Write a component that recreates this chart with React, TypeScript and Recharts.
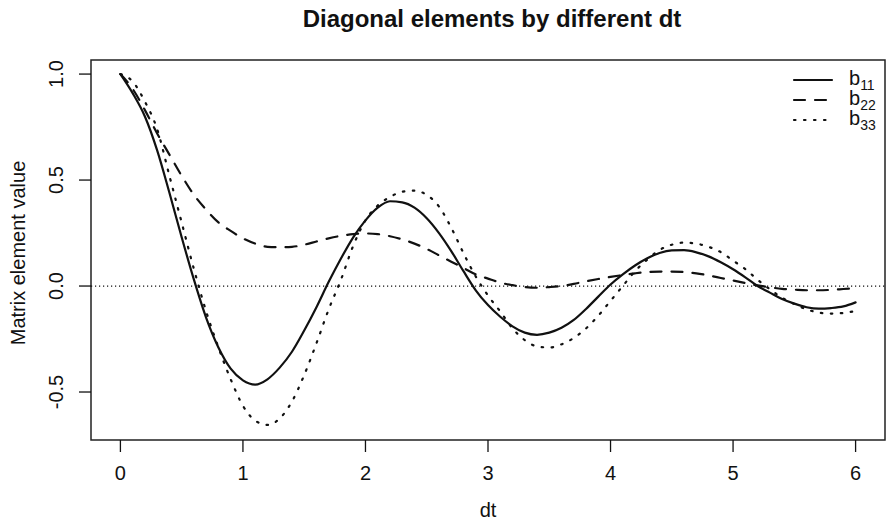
import { LineChart, Line, XAxis, YAxis, ReferenceLine, ReferenceArea, Legend } from "recharts";

const dt = [
  0, 0.1, 0.2, 0.3, 0.4, 0.5, 0.6, 0.7, 0.8, 0.9,
  1, 1.1, 1.2, 1.3, 1.4, 1.5, 1.6, 1.7, 1.8, 1.9,
  2, 2.1, 2.2, 2.3, 2.4, 2.5, 2.6, 2.7, 2.8, 2.9,
  3, 3.1, 3.2, 3.3, 3.4, 3.5, 3.6, 3.7, 3.8, 3.9,
  4, 4.1, 4.2, 4.3, 4.4, 4.5, 4.6, 4.7, 4.8, 4.9,
  5, 5.1, 5.2, 5.3, 5.4, 5.5, 5.6, 5.7, 5.8, 5.9, 6,
];

const b11 = [
  1.0, 0.91, 0.8, 0.64, 0.44, 0.23, 0.03, -0.15, -0.29, -0.39,
  -0.445, -0.465, -0.44, -0.385, -0.31, -0.21, -0.1, 0.02, 0.13, 0.23,
  0.31, 0.37, 0.4, 0.395, 0.37, 0.32, 0.25, 0.165, 0.07, -0.02,
  -0.09, -0.145, -0.19, -0.22, -0.23, -0.22, -0.197, -0.16, -0.108, -0.05,
  0.007, 0.055, 0.097, 0.131, 0.156, 0.168, 0.169, 0.159, 0.14, 0.112,
  0.079, 0.041, 0.0, -0.031, -0.061, -0.083, -0.1, -0.107, -0.104, -0.096, -0.077,
];

const b22 = [
  1.0, 0.93, 0.83, 0.72, 0.62, 0.52, 0.43, 0.36, 0.3, 0.26,
  0.225, 0.2, 0.185, 0.183, 0.185, 0.195, 0.21, 0.225, 0.237, 0.245,
  0.248, 0.245, 0.235, 0.22, 0.2, 0.175, 0.145, 0.115, 0.085, 0.055,
  0.035, 0.016, 0.004, -0.005, -0.008, -0.005, 0.0, 0.01, 0.022, 0.033,
  0.043, 0.052, 0.06, 0.066, 0.068, 0.068, 0.066, 0.06, 0.05, 0.038,
  0.026, 0.014, 0.003, -0.006, -0.013, -0.017, -0.02, -0.02, -0.018, -0.014, -0.01,
];

const b33 = [
  1.0, 0.965, 0.87, 0.74, 0.52, 0.3, 0.08, -0.12, -0.29, -0.44,
  -0.565, -0.635, -0.655, -0.625, -0.545, -0.42, -0.27, -0.11, 0.03, 0.19,
  0.31, 0.38, 0.42, 0.445, 0.45, 0.43, 0.375, 0.275, 0.155, 0.045,
  -0.045, -0.12, -0.2, -0.255, -0.285, -0.29, -0.275, -0.245, -0.2, -0.14,
  -0.07, 0.0, 0.07, 0.125, 0.17, 0.195, 0.205, 0.2, 0.185, 0.16,
  0.12, 0.08, 0.03, -0.015, -0.055, -0.085, -0.11, -0.125, -0.13, -0.127, -0.118,
];

const xTicks = [0, 1, 2, 3, 4, 5, 6];
const yTicks = [-0.5, 0, 0.5, 1];

const series = [
  { key: "b11", sub: "11", dash: undefined },
  { key: "b22", sub: "22", dash: "11 10" },
  { key: "b33", sub: "33", dash: "1.5 8.5" },
];

const rows = dt.map((t, i) => ({ dt: t, b11: b11[i], b22: b22[i], b33: b33[i] }));

const FONT = "'Liberation Sans', Arial, Helvetica, sans-serif";
const INK = "#111";
const X_DOMAIN: [number, number] = [-0.24, 6.24];
const Y_DOMAIN: [number, number] = [-0.7264, 1.0664];

const YTick = (props: any) => {
  const { x, y, payload } = props;
  return (
    <text
      x={x}
      y={y}
      transform={`rotate(-90 ${x} ${y})`}
      textAnchor="middle"
      dominantBaseline="central"
      fontSize={20}
      fontFamily={FONT}
      fill={INK}
    >
      {Number(payload.value).toFixed(1)}
    </text>
  );
};

const YTitle = (props: any) => {
  const vb = props.viewBox || { x: 0, y: 60, width: 91, height: 380 };
  const cx = vb.x + 18;
  const cy = vb.y + vb.height / 2 + 3;
  return (
    <text
      x={cx}
      y={cy}
      transform={`rotate(-90 ${cx} ${cy})`}
      textAnchor="middle"
      dominantBaseline="central"
      fontSize={20}
      fontFamily={FONT}
      fill={INK}
    >
      Matrix element value
    </text>
  );
};

const XTitle = (props: any) => {
  const vb = props.viewBox || { x: 91, y: 440, width: 794, height: 82 };
  return (
    <text
      x={vb.x + vb.width / 2}
      y={vb.y + 77}
      textAnchor="middle"
      fontSize={20}
      fontFamily={FONT}
      fill={INK}
    >
      dt
    </text>
  );
};

const LegendBox = () => (
  <svg width={94} height={84} style={{ display: "block" }}>
    {series.map((s, i) => (
      <g key={s.key}>
        <line
          x1={4}
          x2={42}
          y1={20 + i * 20}
          y2={20 + i * 20}
          stroke={INK}
          strokeWidth={2.2}
          strokeDasharray={s.dash}
          strokeLinecap="round"
        />
        <text x={59} y={25 + i * 20} fontSize={20} fontFamily={FONT} fill={INK}>
          b
          <tspan fontSize={14} dy={5}>
            {s.sub}
          </tspan>
        </text>
      </g>
    ))}
  </svg>
);

export default function App() {
  return (
    <div
      style={{
        position: "absolute",
        left: 0,
        top: 0,
        width: 886,
        height: 522,
        background: "#fff",
      }}
    >
      <div
        style={{
          position: "absolute",
          left: 100,
          width: 784,
          top: 7,
          textAlign: "center",
          fontFamily: FONT,
          fontWeight: "bold",
          fontSize: 24,
          lineHeight: "24px",
          color: INK,
        }}
      >
        Diagonal elements by different dt
      </div>
      <LineChart width={886} height={522} data={rows} margin={{ top: 60, right: 1, bottom: 0, left: 0 }}>
        <XAxis
          dataKey="dt"
          type="number"
          domain={X_DOMAIN}
          ticks={xTicks}
          allowDataOverflow
          height={82}
          axisLine={false}
          tickLine={{ stroke: INK, strokeWidth: 1.3 }}
          tickSize={12}
          tickMargin={14}
          tick={{ fill: INK, fontSize: 20, fontFamily: FONT }}
          label={{ content: XTitle }}
        />
        <YAxis
          type="number"
          domain={Y_DOMAIN}
          ticks={yTicks}
          allowDataOverflow
          width={91}
          axisLine={false}
          tickLine={{ stroke: INK, strokeWidth: 1.3 }}
          tickSize={12}
          tickMargin={23}
          tick={<YTick />}
          label={{ content: YTitle }}
        />
        <ReferenceArea
          x1={X_DOMAIN[0]}
          x2={X_DOMAIN[1]}
          y1={Y_DOMAIN[0]}
          y2={Y_DOMAIN[1]}
          fill="none"
          fillOpacity={0}
          stroke="#222"
          strokeWidth={1.5}
        />
        <ReferenceLine y={0} stroke={INK} strokeWidth={1.2} strokeDasharray="1.2 2.8" />
        {series.map((s) => (
          <Line
            key={s.key}
            dataKey={s.key}
            type="monotone"
            stroke={INK}
            strokeWidth={2.2}
            strokeDasharray={s.dash}
            strokeLinecap="round"
            dot={false}
            activeDot={false}
            isAnimationActive={false}
          />
        ))}
        <Legend
          layout="vertical"
          align="center"
          verticalAlign="middle"
          content={LegendBox}
          wrapperStyle={{ position: "absolute", left: 790, top: 60, right: "auto", bottom: "auto", width: 94 }}
        />
      </LineChart>
    </div>
  );
}
